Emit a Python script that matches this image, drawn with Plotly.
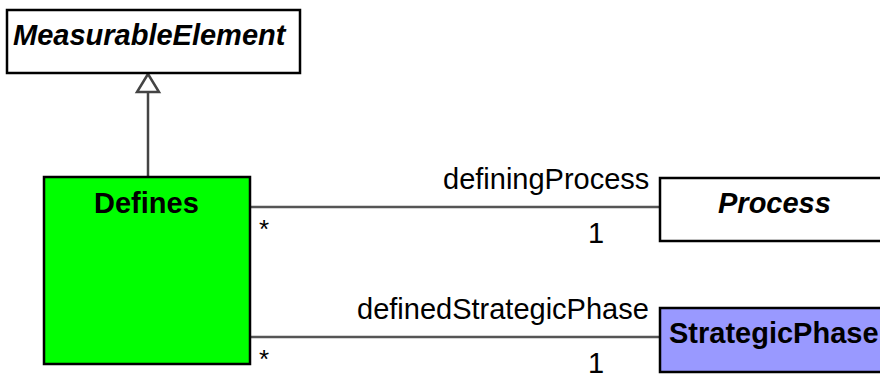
import plotly.graph_objects as go

# ---- diagram content ----
class_names = ["MeasurableElement", "Defines", "Process", "StrategicPhase"]
class_italic = [True, False, True, False]
class_fill = ["#ffffff", "#00ff00", "#ffffff", "#9999ff"]

assoc_roles = ["definingProcess", "definedStrategicPhase"]
assoc_src_mult = ["*", "*"]
assoc_dst_mult = ["1", "1"]

# ---- layout geometry (pixel coordinates, y down) ----
boxes = {
    "MeasurableElement": (7, 10, 300, 73),
    "Defines": (44, 177, 250, 364),
    "Process": (660, 178, 884, 241),
    "StrategicPhase": (660, 308, 884, 372),
}
title_pos = {
    "MeasurableElement": (150, 35, "center"),
    "Defines": (146, 203, "center"),
    "Process": (774, 203, "center"),
    "StrategicPhase": (667, 333, "left"),
}
assoc_y = [207, 337]
assoc_x = (250, 660)

fig = go.Figure()
fig.add_trace(go.Scatter(x=[0, 880], y=[0, 374], mode="markers",
                         marker=dict(opacity=0), hoverinfo="skip", showlegend=False))

shapes = []
annos = []
FONT = "Liberation Sans, Arial, sans-serif"
FS = 29

# association lines
for i, role in enumerate(assoc_roles):
    y = assoc_y[i]
    shapes.append(dict(type="line", x0=assoc_x[0], x1=assoc_x[1], y0=y, y1=y,
                       line=dict(color="#555555", width=2.5)))
    annos.append(dict(x=assoc_x[1] - 9, y=y - 28, text=role, xanchor="right", yanchor="middle",
                      showarrow=False, font=dict(family=FONT, size=FS, color="#000")))
    annos.append(dict(x=assoc_x[0] + 14, y=y + 22, text=assoc_src_mult[i], xanchor="center",
                      yanchor="middle", showarrow=False, font=dict(family=FONT, size=26, color="#000")))
    annos.append(dict(x=assoc_x[1] - 64, y=y + 26, text=assoc_dst_mult[i], xanchor="center",
                      yanchor="middle", showarrow=False, font=dict(family=FONT, size=FS, color="#000")))

# generalization
gx = 148
shapes.append(dict(type="line", x0=gx, x1=gx, y0=92, y1=177, line=dict(color="#444444", width=2.5)))
shapes.append(dict(type="path", path=f"M {gx} 74 L {gx-11} 92 L {gx+11} 92 Z",
                   line=dict(color="#444444", width=2.5), fillcolor="#ffffff"))

# classes
for name, italic, fill in zip(class_names, class_italic, class_fill):
    x0, y0, x1, y1 = boxes[name]
    shapes.append(dict(type="rect", x0=x0, y0=y0, x1=x1, y1=y1,
                       line=dict(color="#000000", width=2.5), fillcolor=fill))
    tx, ty, anc = title_pos[name]
    txt = f"<b><i>{name}</i></b>" if italic else f"<b>{name}</b>"
    annos.append(dict(x=tx, y=ty, text=txt, xanchor=anc, yanchor="middle", showarrow=False,
                      font=dict(family=FONT, size=FS, color="#000")))

fig.update_layout(
    width=880, height=374, margin=dict(l=0, r=0, t=0, b=0),
    paper_bgcolor="white", plot_bgcolor="white",
    xaxis=dict(range=[0, 880], visible=False, fixedrange=True),
    yaxis=dict(range=[374, 0], visible=False, fixedrange=True),
    shapes=shapes, annotations=annos, showlegend=False,
)
fig.write_html("out.html", config={"displayModeBar": False},
               post_script="document.body.style.margin='0';document.body.style.padding='0';document.body.style.overflow='hidden';")
